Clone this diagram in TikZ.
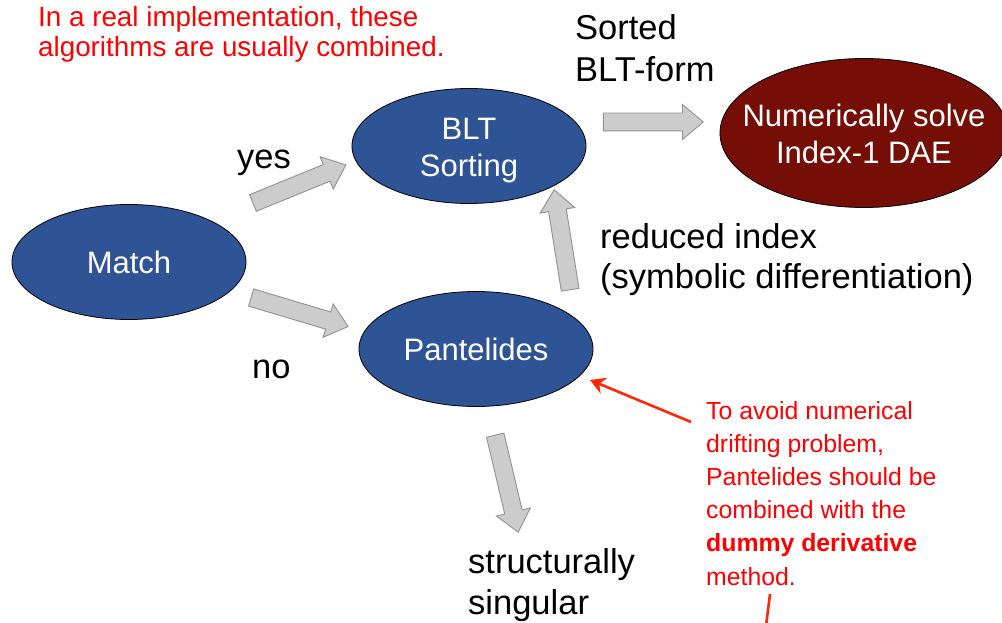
\documentclass[tikz,border=0pt]{standalone}
\usepackage{fontspec}
\setmainfont{Liberation Sans}
\usetikzlibrary{shapes.geometric,shapes.arrows,calc,arrows.meta}

\definecolor{nodeblue}{RGB}{47,84,150}
\definecolor{solvered}{RGB}{116,14,6}
\definecolor{arrowfill}{RGB}{204,204,204}
\definecolor{arrowline}{RGB}{145,145,145}
\definecolor{notered}{RGB}{255,0,0}
\definecolor{pointred}{RGB}{252,40,8}

% gray block arrow from one named point to another
\newcommand\grayblock[2]{%
  \path let \p1=($(#2)-(#1)$), \n1={atan2(\y1,\x1)}, \n2={veclen(\x1,\y1)} in
    node[grayarrow, minimum height=\n2, rotate=\n1] at ($(#1)!0.5!(#2)$) {};}

\begin{document}
\begin{tikzpicture}[x=1pt,y=-1pt,
  blob/.style={ellipse, draw=black, line width=0.8pt, inner sep=0pt,
    minimum width=234pt, minimum height=115pt},
  blobtext/.style={text=white, align=center, inner sep=0pt,
    font=\fontsize{31}{37}\selectfont},
  bigtext/.style={align=left, inner sep=0pt, anchor=base west,
    font=\fontsize{34.5}{41}\selectfont},
  rednote/.style={align=left, inner sep=0pt, anchor=base west, text=notered},
  grayarrow/.style={single arrow, draw=arrowline, fill=arrowfill, line width=0.9pt,
    inner xsep=0pt, inner ysep=8.5pt, single arrow head extend=8.5pt,
    single arrow tip angle=80},
  pointer/.style={draw=pointred, line width=2.6pt,
    -{Stealth[length=15pt, width=17pt, inset=5pt]}}]
\useasboundingbox (0,0) rectangle (1002,623);

% algorithm stages
\node[blob, fill=nodeblue, blobtext] (match) at (129,262) {Match};
\node[blob, fill=nodeblue] (blt) at (469,146) {};
\node[blobtext] (blttext) at ($(blt.center)+(0,5)$) {BLT\\Sorting};
\node[blob, fill=nodeblue, blobtext] (pant) at (476,349) {Pantelides};
\node[blob, fill=solvered, minimum width=288pt, minimum height=149pt] (solve) at (864,133) {};
\node[blobtext] (solvetext) at ($(solve.center)+(0,1)$) {Numerically solve\\Index-1 DAE};

% flow arrows
\coordinate (yesA) at (248,205);  \coordinate (yesB) at (341,167);
\coordinate (noA)  at (246,296);  \coordinate (noB)  at (343,325);
\coordinate (upA)  at (571,295);  \coordinate (upB)  at (555,195);
\coordinate (fwdA) at (598,122);  \coordinate (fwdB) at (698,122);
\coordinate (dnA)  at (494,430);  \coordinate (dnB)  at (517,527);
\grayblock{yesA}{yesB}
\grayblock{noA}{noB}
\grayblock{upA}{upB}
\grayblock{fwdA}{fwdB}
\grayblock{dnA}{dnB}

% labels (anchored at the baseline of the last line)
\node[bigtext] (yes) at (237,168) {yes};
\node[bigtext] (no) at (252,378) {no};
\node[bigtext, font=\fontsize{34.5}{42}\selectfont] (sorted) at (575,82) {Sorted\\BLT-form};
\node[bigtext, font=\fontsize{34.5}{40}\selectfont] (reduced) at (600,288) {reduced index\\(symbolic differentiation)};
\node[bigtext] (singular) at (468,614) {structurally\\singular};

% remarks
\node[rednote, font=\fontsize{27.8}{30}\selectfont] (combo) at (38,57)
  {In a real implementation, these\\algorithms are usually combined.};
\node[rednote, font=\fontsize{24.8}{33.2}\selectfont] (drift) at (706,585)
  {To avoid numerical\\drifting problem,\\Pantelides should be\\combined with the\\\textbf{dummy derivative}\\method.};

% pointer to Pantelides
\coordinate (rtail) at (691,422);
\coordinate (rtip) at (590,380);
\draw[pointer] (rtail) -- (rtip);
\coordinate (s1) at (770,594);
\coordinate (s2) at (766,626);
\draw[draw=pointred, line width=2.6pt] (s1) -- (s2);
\end{tikzpicture}
\end{document}
